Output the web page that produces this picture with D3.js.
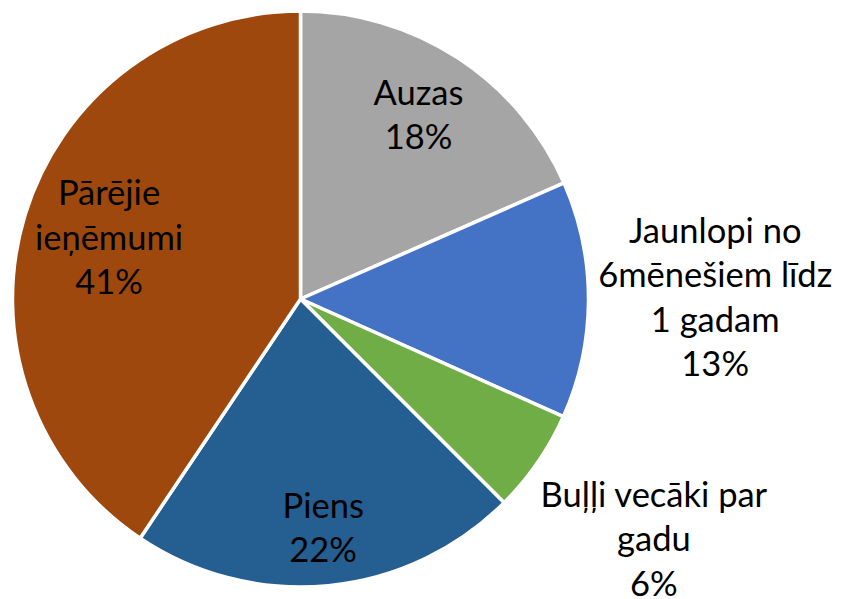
<!DOCTYPE html>
<html>
<head>
<meta charset="utf-8">
<script src="https://cdn.jsdelivr.net/npm/d3@7"></script>
<style>
  body { margin: 0; background: #fff; }
  svg { display: block; }
  .lbl { font-family: Lato, "Noto Sans", sans-serif; font-size: 34.5px; fill: #000; }
</style>
</head>
<body>
<svg id="chart"></svg>
<script>
// dati
const categories = ["Auzas", "Jaunlopi no 6mēnešiem līdz 1 gadam", "Buļļi vecāki par gadu", "Piens", "Pārējie ieņēmumi"];
const values = [18.4, 13.3, 5.8, 21.9, 40.6];
const labelLines = [
    ["Auzas", "18%"],
    ["Jaunlopi no", "6mēnešiem līdz", "1 gadam", "13%"],
    ["Buļļi vecāki par", "gadu", "6%"],
    ["Piens", "22%"],
    ["Pārējie", "ieņēmumi", "41%"]
];
const colors = ["#A5A5A5", "#4472C4", "#70AD47", "#255E91", "#9E480E"];

const width = 841, height = 599;
const cx = 300.5, cy = 299, radius = 288;
// attālums etiķetei no centra (daļa no rādiusa)
const labelRadius = [0.75, 1.44, 1.49, 0.81, 0.695];
const lineHeight = 44.5;

const svg = d3.select("#chart").attr("width", width).attr("height", height);
const g = svg.append("g").attr("transform", `translate(${cx},${cy})`);

const pie = d3.pie().sort(null).value(d => d);
const arcs = pie(values);
const arc = d3.arc().innerRadius(0).outerRadius(radius);

g.selectAll("path.slice")
    .data(arcs)
    .enter().append("path")
    .attr("class", "slice")
    .attr("d", arc)
    .attr("fill", (d, i) => colors[i])
    .attr("stroke", "#fff")
    .attr("stroke-width", 3.5)
    .attr("stroke-linejoin", "round");

// etiķetes
arcs.forEach((a, i) => {
    const r = radius * labelRadius[i];
    const pos = d3.arc().innerRadius(r).outerRadius(r).centroid(a);
    const lines = labelLines[i];
    const text = g.append("text")
        .attr("class", "lbl")
        .attr("text-anchor", "middle");
    lines.forEach((line, j) => {
        text.append("tspan")
            .attr("x", pos[0])
            .attr("y", pos[1] + (j - (lines.length - 1) / 2) * lineHeight + 9)
            .text(line);
    });
});
</script>
</body>
</html>
